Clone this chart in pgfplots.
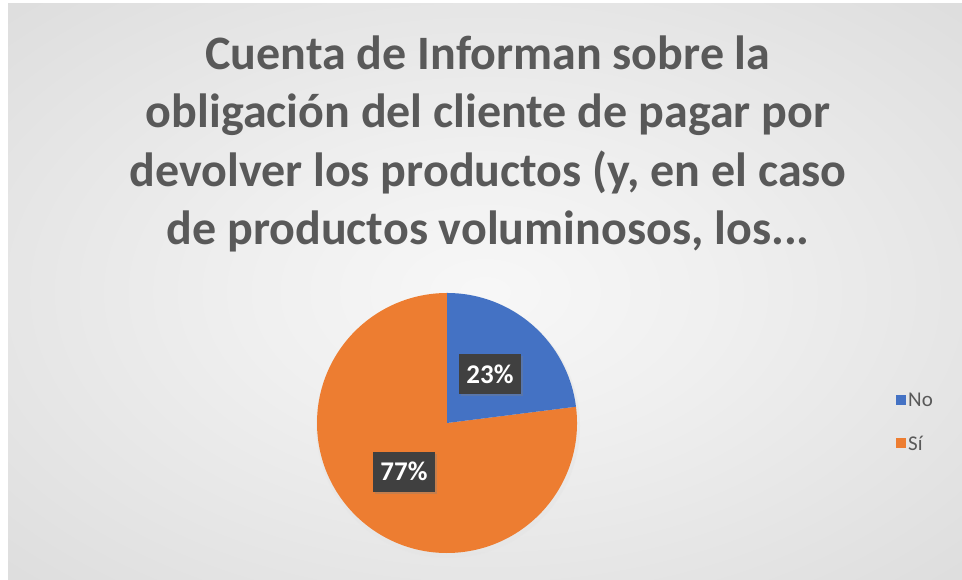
\documentclass[border=0pt]{standalone}
\usepackage{pgfplots}
\pgfplotsset{compat=1.18}
\usepackage{pgfplotstable}
\usepackage{fontspec}
\setmainfont{Carlito}
\usetikzlibrary{shadows,calc}

\definecolor{cNo}{HTML}{4472C4}
\definecolor{cSi}{HTML}{ED7D31}
\definecolor{ttl}{HTML}{595959}
\definecolor{lbl}{HTML}{404040}

\pgfdeclareradialshading{bgshade}{\pgfpoint{0bp}{0bp}}{%
  color(0bp)=(white!97!black);
  color(12bp)=(white!94!black);
  color(35bp)=(white!87!black);
  color(50bp)=(white!81!black);
  color(72bp)=(white!77!black)}

\pgfplotstableread{
label value
No 23
Sí 77
}\piedata

\tikzset{ttlnode/.style={anchor=base, text=ttl, font=\fontsize{48bp}{58bp}\selectfont\bfseries, inner sep=0pt},
  lblnode/.style={fill=lbl, text=white, font=\fontsize{27bp}{32bp}\selectfont\bfseries,
      minimum width=62bp, minimum height=40bp, inner sep=0pt,
      drop shadow={shadow xshift=2bp, shadow yshift=-2bp, opacity=0.35}},
  legnode/.style={anchor=west, text=ttl, font=\fontsize{21bp}{25bp}\selectfont, inner sep=0pt}}

\begin{document}
\begin{tikzpicture}
\pgfplotstablegetelem{0}{value}\of\piedata \let\vNo\pgfplotsretval
\pgfplotstablegetelem{1}{value}\of\piedata \let\vSi\pgfplotsretval
\pgfmathsetmacro\total{\vNo+\vSi}
\pgfmathsetmacro\aA{90}
\pgfmathsetmacro\aB{90-360*\vNo/\total}
\pgfmathsetmacro\aC{90-360}
\pgfmathsetmacro\mA{(\aA+\aB)/2}
\pgfmathsetmacro\mB{(\aB+\aC)/2}
\pgfmathtruncatemacro\pNo{round(100*\vNo/\total)}
\pgfmathtruncatemacro\pSi{round(100*\vSi/\total)}
\begin{axis}[
  width=962bp, height=580bp, scale only axis,
  xmin=0, xmax=962, ymin=0, ymax=580,
  axis lines=none, clip=false,
]
% background
\fill[white] (axis cs:0,0) rectangle (axis cs:962,580);
\shade[shading=bgshade] (axis cs:8,0) rectangle (axis cs:962,576);
% title
\node[ttlnode] at (axis cs:488,510) {Cuenta de Informan sobre la};
\node[ttlnode] at (axis cs:488,452) {obligación del cliente de pagar por};
\node[ttlnode] at (axis cs:488,393) {devolver los productos (y, en el caso};
\node[ttlnode] at (axis cs:488,335) {de productos voluminosos, los...};
% pie
\fill[black!10, opacity=0.5] (axis cs:448,154) circle[radius=132bp];
\fill[cSi] (axis cs:447,157) -- ++(\aB:130bp) arc[start angle=\aB, end angle=\aC, radius=130bp] -- cycle;
\fill[cNo] (axis cs:447,157) -- ++(\aA:130bp) arc[start angle=\aA, end angle=\aB, radius=130bp] -- cycle;
% data labels
\node[lblnode] at ($(axis cs:447,157)+(\mA:65bp)$) {\pNo\%};
\node[lblnode] at ($(axis cs:447,157)+(\mB:65bp)$) {\pSi\%};
% legend
\fill[cNo] (axis cs:896,175) rectangle (axis cs:906,185);
\node[legnode] at (axis cs:908,180) {No};
\fill[cSi] (axis cs:896,132) rectangle (axis cs:906,142);
\node[legnode] at (axis cs:908,137) {Sí};
\end{axis}
\end{tikzpicture}
\end{document}
